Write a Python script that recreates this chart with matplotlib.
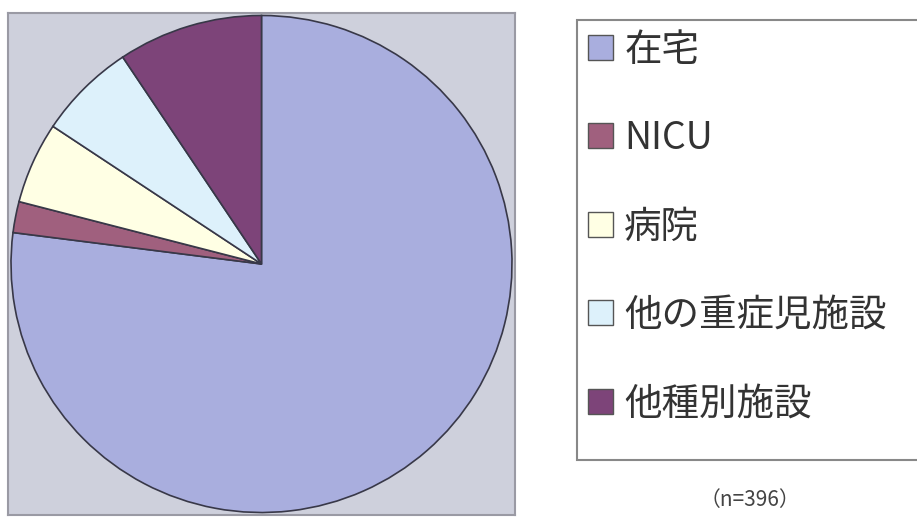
import matplotlib.pyplot as plt
from matplotlib.patches import Patch, Rectangle

plt.rcParams['font.family'] = ['Noto Sans CJK JP', 'DejaVu Sans']

# discharge destination counts (n=396)
labels = ['在宅', 'NICU', '病院', '他の重症児施設', '他種別施設']
counts = [305, 8, 21, 25, 37]
colors = ['#A9AEDE', '#A0607E', '#FFFFE4', '#DDF1FB', '#7D4479']
n_total = 396

W, H = 917, 523
fig = plt.figure(figsize=(W / 100, H / 100), dpi=100)

# pie on a grey plot area
ax = fig.add_axes([8 / W, 1 - 515 / H, 507 / W, 502 / H])
ax.pie(counts, colors=colors, startangle=90, counterclock=False,
       radius=1.0, wedgeprops=dict(edgecolor='#383848', linewidth=1.2))
ax.set_frame_on(True)
ax.set_facecolor('#CED0DC')
for s in ax.spines.values():
    s.set_color('#9A9AA4')
    s.set_linewidth(1.5)
ax.set_xlim(-1.012, 1.012)
ax.set_ylim(-1.01, 1.01)
ax.set_aspect('auto')
ax.set_xticks([])
ax.set_yticks([])

# legend frame running off the right edge
fig.patches.append(Rectangle((577 / W, 1 - 460 / H), 360 / W, 440 / H,
                             transform=fig.transFigure, facecolor='white',
                             edgecolor='#888888', linewidth=1.5))

handles = [Patch(facecolor=c, edgecolor='#555555', linewidth=1) for c in colors]
fig.legend(handles, labels, loc='upper left', bbox_to_anchor=(580 / W, 1 - 23 / H),
           frameon=False, fontsize=27, labelcolor='#333333',
           handlelength=0.68, handleheight=0.65, handletextpad=0.3,
           labelspacing=1.32, borderaxespad=0, borderpad=0.2)

fig.text(750 / W, 1 - 500 / H, f'（n={n_total}）', ha='center', va='center',
         fontsize=15, color='#444444')

fig.savefig('out.png', dpi=100)
